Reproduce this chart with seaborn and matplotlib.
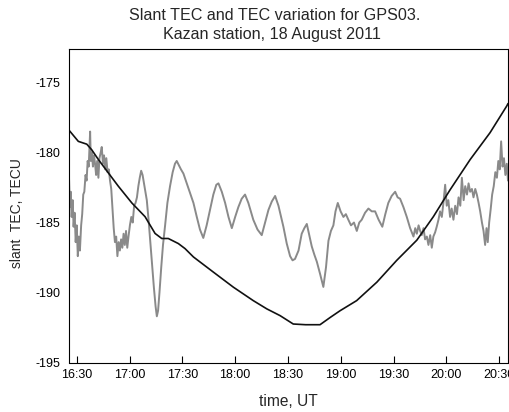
import matplotlib
matplotlib.use("Agg")
import matplotlib.pyplot as plt
import seaborn as sns
import pandas as pd
import numpy as np

# ---- data (time in minutes after 16:00 UT) ----
slant_min = [25.6, 30.9, 35.7, 38.5, 42.3, 48.0, 53.6, 61.3, 68.8, 74.5,
             78.3, 82.0, 87.7, 91.5, 96.3, 107.6, 119.0, 130.3, 138.0, 145.5,
             153.0, 160.0, 168.2, 174.0, 179.6, 189.0, 200.5, 211.8, 223.2, 232.6,
             242.1, 253.5, 264.8, 274.3, 275.0]
slant_tec = [-178.4, -179.2, -179.4, -179.8, -180.5, -181.46, -182.4, -183.6, -184.58, -185.78,
             -186.14, -186.14, -186.5, -186.86, -187.46, -188.54, -189.62, -190.58, -191.17, -191.65,
             -192.25, -192.3, -192.3, -191.78, -191.3, -190.58, -189.26, -187.7, -186.26, -184.58,
             -182.66, -180.5, -178.58, -176.67, -176.5]

var_min = [25.6, 26.1, 26.6, 27.1, 27.7, 28.2, 28.8, 29.4, 30.0, 30.6,
           31.2, 31.8, 32.5, 33.1, 33.7, 34.3, 35.0, 35.6, 36.2, 36.8,
           37.3, 37.6, 38.0, 38.6, 39.2, 39.8, 40.4, 41.0, 41.6, 42.3,
           42.9, 43.6, 44.2, 44.9, 45.5, 46.2, 46.8, 47.5, 48.2, 48.9,
           49.6, 50.3, 51.0, 51.7, 52.4, 53.1, 53.8, 54.5, 55.2, 55.9,
           56.6, 57.3, 58.0, 58.7, 59.4, 60.2, 61.0, 61.8, 62.6, 63.4,
           64.2, 65.0, 65.8, 66.6, 67.4, 68.2, 69.0, 69.8, 70.8, 71.8,
           72.8, 73.8, 74.8, 75.5, 76.2, 77.0, 78.0, 79.0, 80.2, 81.5,
           83.0, 84.5, 85.8, 86.8, 88.0, 89.2, 90.6, 92.5, 94.4, 96.3,
           98.2, 100.0, 101.9, 103.8, 105.7, 107.6, 109.3, 110.5, 112.4, 114.3,
           116.2, 118.1, 120.0, 121.8, 123.7, 125.6, 127.5, 130.3, 132.7, 135.1,
           137.0, 138.9, 140.8, 142.7, 144.6, 147.4, 149.3, 151.2, 152.6, 154.0,
           156.0, 157.8, 159.3, 160.7, 162.1, 163.5, 165.0, 166.4, 168.3, 170.1,
           171.6, 173.0, 174.4, 175.8, 177.0, 178.3, 179.9, 181.5, 182.9, 184.3,
           185.8, 187.5, 189.1, 190.5, 191.9, 193.8, 195.7, 197.6, 199.5, 201.5,
           203.6, 205.3, 207.0, 208.9, 210.9, 212.3, 213.7, 215.6, 217.5, 219.4,
           221.3, 222.3, 223.2, 224.2, 225.1, 226.0, 227.0, 227.9, 228.9, 229.8,
           230.8, 231.7, 232.6, 233.6, 234.5, 235.5, 236.4, 237.4, 238.3, 239.3,
           240.2, 241.1, 242.1, 243.0, 244.0, 245.0, 246.0, 246.9, 247.9, 248.8,
           249.8, 250.7, 251.7, 252.6, 253.5, 254.5, 255.4, 256.4, 257.3, 258.3,
           259.2, 260.2, 261.1, 262.0, 262.8, 263.5, 264.3, 265.2, 266.0, 266.9,
           267.8, 268.7, 269.5, 270.3, 271.1, 271.9, 272.7, 273.5, 274.3, 275.0]
tec_var = [-181.8, -183.9, -182.8, -184.6, -183.4, -185.3, -184.3, -186.4, -185.2, -187.4,
           -186.0, -187.0, -185.2, -184.4, -183.0, -182.8, -181.6, -182.0, -180.6, -181.0,
           -179.4, -178.5, -180.6, -180.0, -181.0, -180.2, -180.8, -181.6, -180.6, -181.8,
           -180.4, -180.0, -179.6, -180.8, -180.2, -181.2, -180.4, -181.4, -181.2, -182.0,
           -182.6, -184.0, -185.4, -186.4, -186.0, -187.4, -186.4, -187.0, -186.2, -186.8,
           -185.8, -186.6, -185.6, -186.8, -186.0, -185.2, -184.6, -185.0, -183.8, -183.6,
           -183.2, -182.4, -181.8, -181.3, -181.6, -182.2, -182.8, -183.4, -184.8, -186.4,
           -188.0, -189.6, -191.0, -191.7, -191.3, -190.0, -188.2, -186.6, -185.2, -183.6,
           -182.4, -181.4, -180.8, -180.6, -180.9, -181.2, -181.5, -182.2, -182.9, -183.6,
           -184.6, -185.5, -186.1, -185.2, -184.1, -183.0, -182.3, -182.2, -182.8, -183.6,
           -184.6, -185.4, -184.6, -183.9, -183.3, -183.0, -183.6, -184.8, -185.5, -185.9,
           -185.0, -184.1, -183.5, -183.1, -183.8, -185.3, -186.5, -187.4, -187.7, -187.6,
           -187.0, -185.8, -185.4, -185.1, -185.9, -186.7, -187.3, -187.8, -188.7, -189.6,
           -188.2, -186.3, -185.6, -185.2, -184.2, -183.6, -184.2, -184.6, -184.4, -184.8,
           -185.2, -185.0, -185.6, -185.0, -184.8, -184.3, -184.0, -184.2, -184.2, -184.8,
           -185.3, -184.4, -183.6, -183.1, -182.8, -183.2, -183.3, -183.9, -184.6, -185.4,
           -186.0, -185.4, -185.8, -185.2, -185.6, -185.9, -185.4, -186.2, -186.0, -186.6,
           -185.9, -186.8, -186.0, -185.7, -185.3, -184.8, -184.2, -184.6, -183.6, -182.3,
           -183.8, -183.4, -184.6, -184.0, -184.8, -183.8, -184.4, -183.2, -183.8, -181.8,
           -183.4, -182.4, -183.0, -182.2, -182.8, -182.6, -183.2, -182.6, -183.0, -183.6,
           -184.2, -185.0, -185.6, -186.6, -185.4, -186.4, -185.0, -184.0, -183.0, -182.4,
           -181.4, -181.8, -180.6, -181.2, -179.2, -181.0, -180.4, -181.6, -180.8, -182.0]

tick_min = [30, 60, 90, 120, 150, 180, 210, 240, 270]
tick_labels = ["16:30", "17:00", "17:30", "18:00", "18:30", "19:00", "19:30", "20:00", "20:30"]
y_ticks = [-195, -190, -185, -180, -175]

title_line1 = "Slant TEC and TEC variation for GPS03."
title_line2 = "Kazan station, 18 August 2011"

# ---- figure ----
sns.set_style("white")
plt.rcParams["font.family"] = ["Liberation Sans", "DejaVu Sans"]

fig = plt.figure(figsize=(5.10, 4.12), dpi=100)
ax = fig.add_axes([69 / 510, 1 - 362.5 / 412, (508 - 69) / 510, (362.5 - 49) / 412])

df_var = pd.DataFrame({"t": np.array(var_min) / 60 + 16, "v": tec_var})
df_sl = pd.DataFrame({"t": np.array(slant_min) / 60 + 16, "v": slant_tec})

sns.lineplot(data=df_var, x="t", y="v", ax=ax, color="#8a8a8a", lw=1.4, sort=False)
sns.lineplot(data=df_sl, x="t", y="v", ax=ax, color="#111111", lw=1.2, sort=False)

ax.set_xlim(16 + 25.6 / 60, 16 + 275.0 / 60)
ax.set_ylim(-195, -172.6)
ax.set_xticks([16 + m / 60 for m in tick_min])
ax.set_xticklabels(tick_labels)
ax.set_yticks(y_ticks)
ax.set_yticklabels([str(v) for v in y_ticks])
ax.tick_params(axis="x", direction="in", length=5, width=0.8, pad=5, labelsize=9, colors="black", bottom=True)
ax.tick_params(axis="y", length=0, pad=6, labelsize=9, colors="black", left=True)
for s in ax.spines.values():
    s.set_visible(True)
    s.set_color("black")
    s.set_linewidth(0.8)
ax.set_xlabel("")
ax.set_ylabel("")

fig.text(275 / 510, 1 - 15 / 412, title_line1, ha="center", va="center", fontsize=11.6)
fig.text(272 / 510, 1 - 34 / 412, title_line2, ha="center", va="center", fontsize=11.6)
fig.text(288 / 510, 1 - 401 / 412, "time, UT", ha="center", va="center", fontsize=11.2)
fig.text(17 / 510, 1 - 213 / 412, "slant  TEC, TECU", ha="center", va="center", rotation=90, fontsize=10)

fig.savefig("out.png", dpi=100)
